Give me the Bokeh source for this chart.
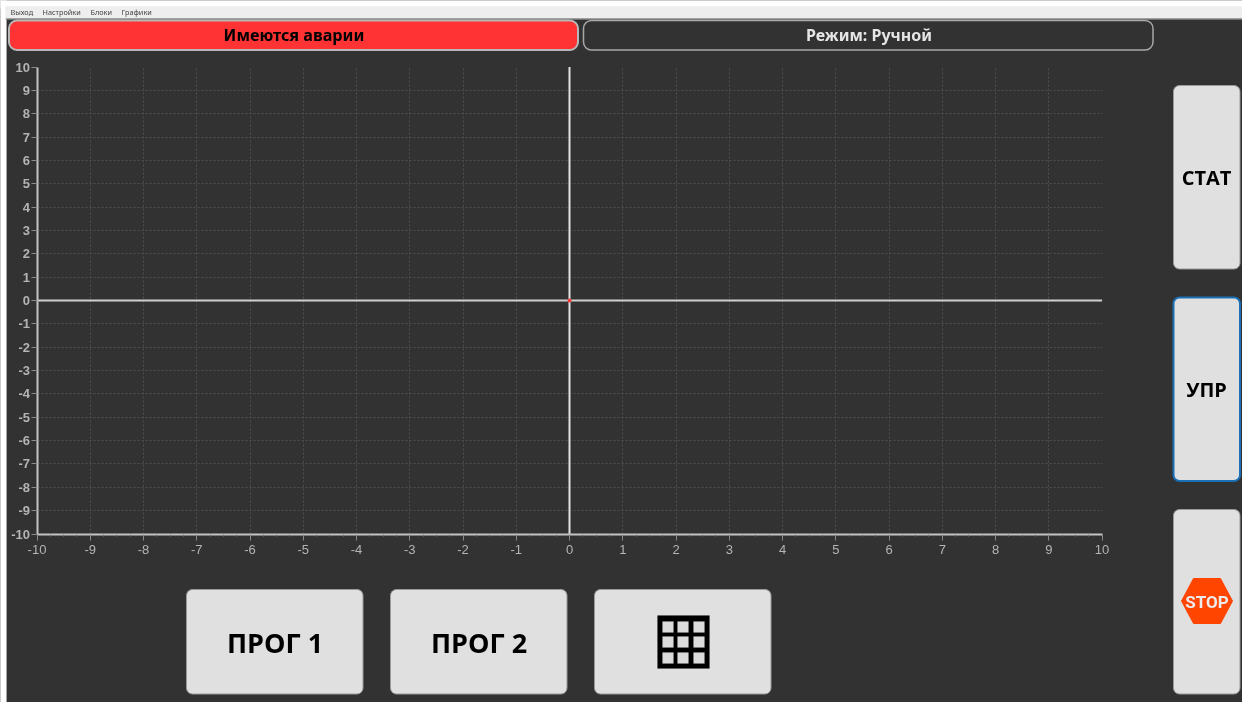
from bokeh.plotting import figure
from bokeh.embed import file_html
from bokeh.resources import INLINE
from bokeh.models import BoxAnnotation, Label, PolyAnnotation, FixedTicker, Range1d

# data
x_ticks = list(range(-10, 11))
y_ticks = list(range(-10, 11))
x_minor = [t + f for t in range(-10, 10) for f in (0.25, 0.5, 0.75)]
grid_ticks = list(range(-9, 10))
axis_x = [-10, 10]
axis_y = [-10, 10]
zero = [0]
origin_x = [0]
origin_y = [0]
menu_items = ["Выход", "Настройки", "Блоки", "Графики"]
menu_pos = [10, 42, 90, 121]
title_alarm = "Имеются аварии"
title_mode = "Режим: Ручной"
side_buttons = ["СТАТ", "УПР"]
bottom_buttons = ["ПРОГ 1", "ПРОГ 2"]

W, H = 1242, 702
BG = "#323232"
BTN = "#e0e0e0"
PX, PY = 53.25, 23.35   # pixels per unit
L, R, T, B = 36.5, 1101.5, 66.5, 533.5

p = figure(width=W, height=H, output_backend="svg", toolbar_location=None,
           x_range=Range1d(-10 - L / PX, 10 + (W - R) / PX),
           y_range=Range1d(-10 - (H - B) / PY, 10 + T / PY),
           min_border_left=0, min_border_right=0, min_border_top=0, min_border_bottom=0,
           background_fill_color=BG, border_fill_color=BG,
           styles={"position": "fixed", "left": "0px", "top": "0px"})
p.outline_line_color = None


def box(l, r, t, b, fill, line=None, lw=1, radius=0):
    p.add_layout(BoxAnnotation(left=l, right=r, top=H - t, bottom=H - b,
                               left_units="screen", right_units="screen",
                               top_units="screen", bottom_units="screen",
                               fill_color=fill, fill_alpha=1,
                               line_color=line or fill, line_width=lw if line else 0.1, line_alpha=1,
                               border_radius=radius))


def text(x, y, s, size, color, font, style="bold"):
    p.add_layout(Label(x=x, y=H - y, x_units="screen", y_units="screen", text=s,
                       text_font=font, text_font_size=f"{size}px", text_font_style=style,
                       text_color=color, text_align="center", text_baseline="middle"))


for ax, ticks in ((p.xaxis[0], x_ticks), (p.yaxis[0], y_ticks)):
    ax.fixed_location = -10
    ax.bounds = (-10, 10)
    ax.axis_line_color = "#c4c4c4"
    ax.axis_line_width = 2
    ax.major_tick_line_color = "#8a8a8a"
    ax.major_tick_in = 0
    ax.major_tick_out = 6
    ax.major_label_text_color = "#b4b4b4"
    ax.major_label_text_font = "Liberation Sans"
    ax.major_label_text_font_size = "13px"
    ax.major_label_standoff = 1
    ax.major_label_overrides = {t: str(t) for t in ticks}
p.xaxis[0].ticker = FixedTicker(ticks=x_ticks, minor_ticks=x_minor)
p.yaxis[0].ticker = FixedTicker(ticks=y_ticks)
p.xaxis[0].minor_tick_line_color = "#777777"
p.xaxis[0].minor_tick_in = 0
p.xaxis[0].minor_tick_out = 2
p.yaxis[0].minor_tick_line_color = None
p.yaxis[0].major_label_text_font_style = "bold"
p.xaxis[0].major_label_standoff = 5

for g in (p.xgrid[0], p.ygrid[0]):
    g.grid_line_color = "#4e4e4e"
    g.grid_line_dash = "2 2"
    g.grid_line_width = 1
    g.ticker = FixedTicker(ticks=grid_ticks)
    g.cross_bounds = (-10, 10)

p.line(axis_x, zero * 2, line_color="#cfcfcf", line_width=2)
p.line(zero * 2, axis_y, line_color="#e2e2e2", line_width=2)
p.scatter(origin_x, origin_y, size=3, color="#ff3030")

# window chrome
box(-2, W + 2, -2, 8, "#ffffff")
box(-2, 6, -2, H + 2, "#ffffff")
box(5, W + 2, 6, 18, "#eeeeee")
box(5, W + 2, 18, 19, "#a8a8a8")
for name, x in zip(menu_items, menu_pos):
    p.add_layout(Label(x=x, y=H - 11.5, x_units="screen", y_units="screen", text=name,
                       text_font="Noto Sans", text_font_size="7.3px", text_color="#444444",
                       text_align="left", text_baseline="middle"))

box(8.5, 577.5, 20, 49.5, "#ff3333", "#b8b8b8", 2, 8)
text(293.5, 34.5, title_alarm, 16.2, "#000000", "Noto Sans")
box(583, 1152.5, 20, 49.5, BG, "#a8a8a8", 1.5, 8)
text(868.5, 34.5, title_mode, 16, "#e6e6e6", "Noto Sans")

box(1173, 1239.5, 85, 268.5, BTN, "#9a9a9a", 1, 6)
box(1173, 1239.5, 297, 480.5, BTN, "#1a6fb5", 2, 6)
box(1173, 1239.5, 509, 693.5, BTN, "#9a9a9a", 1, 6)
text(1206, 177, side_buttons[0], 20, "#000000", "Open Sans")
text(1206, 389, side_buttons[1], 20, "#000000", "Open Sans")

for l in (186, 390, 594):
    box(l, l + 176.5, 589, 693.5, BTN, "#9a9a9a", 1, 6)
text(274.5, 642, bottom_buttons[0], 27, "#000000", "Open Sans")
text(478.5, 642, bottom_buttons[1], 27, "#000000", "Open Sans")

# table icon
box(657, 709, 615, 668, "#000000")
for cx in (662, 677, 693):
    for cy in (621, 636, 652):
        box(cx, cx + 11, cy, cy + 11, "#dcdcdc")

# stop sign
p.add_layout(PolyAnnotation(xs=[1181, 1193, 1220, 1232, 1220, 1193],
                            ys=[H - v for v in (600.5, 578, 578, 600.5, 623, 623)],
                            xs_units="screen", ys_units="screen",
                            fill_color="#ff4500", fill_alpha=1, line_color="#ff4500", line_alpha=1))
text(1206.5, 601, "STOP", 17, "#ececec", "Roboto")

open("out.html", "w").write(file_html(p, INLINE))
